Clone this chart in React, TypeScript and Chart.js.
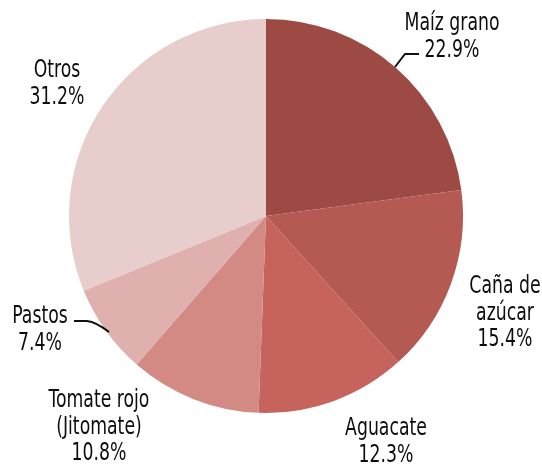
import React, { useEffect, useRef } from "react";
import { Chart, registerables } from "chart.js";

Chart.register(...registerables);

const categories = ["Maíz grano", "Caña de azúcar", "Aguacate", "Tomate rojo (Jitomate)", "Pastos", "Otros"];
const values = [22.9, 15.4, 12.3, 10.8, 7.4, 31.2];
const colors = ["#9e4a44", "#b55a52", "#c6635d", "#d38a85", "#dfb0ae", "#e8cdcd"];
const labelLines = [
  ["Maíz grano", "22.9%"],
  ["Caña de", "azúcar", "15.4%"],
  ["Aguacate", "12.3%"],
  ["Tomate rojo", "(Jitomate)", "10.8%"],
  ["Pastos", "7.4%"],
  ["Otros", "31.2%"],
];
// label anchor offsets from pie center (x center, first baseline)
const labelOffsets = [
  [186, -186],
  [239, 77],
  [120, 219],
  [-167, 191],
  [-226, 107],
  [-209, -139],
];
const FONT = '24px "DejaVu Sans Condensed", "Liberation Sans Narrow", sans-serif';
const X_SCALE = 0.8;
const LINE_H = 26.5;

const labelPlugin = {
  id: "pieLabels",
  afterDraw(chart: any) {
    const meta = chart.getDatasetMeta(0);
    const arc = meta.data[0];
    if (!arc) return;
    const cx = arc.x;
    const cy = arc.y;
    const ctx = chart.ctx;
    ctx.save();
    ctx.fillStyle = "#0d0d0d";
    ctx.font = FONT;
    ctx.textAlign = "center";
    ctx.textBaseline = "alphabetic";
    labelLines.forEach((lines, i) => {
      const [dx, dy] = labelOffsets[i];
      lines.forEach((t, j) => {
        ctx.save();
        ctx.translate(cx + dx, cy + dy + j * LINE_H);
        ctx.scale(X_SCALE, 1);
        ctx.fillText(t, 0, 0);
        ctx.restore();
      });
    });
    // leader lines
    ctx.strokeStyle = "#111";
    ctx.lineWidth = 2;
    ctx.lineJoin = "miter";
    // Maíz grano
    ctx.beginPath();
    ctx.moveTo(cx + 129, cy - 149);
    ctx.lineTo(cx + 139, cy - 162);
    ctx.lineTo(cx + 153, cy - 162);
    ctx.stroke();
    // Pastos
    ctx.beginPath();
    ctx.moveTo(cx - 192, cy + 105);
    ctx.lineTo(cx - 179, cy + 105);
    ctx.quadraticCurveTo(cx - 170, cy + 106, cx - 157, cy + 116);
    ctx.stroke();
    ctx.restore();
  },
};

export default function App() {
  const ref = useRef<HTMLCanvasElement>(null);
  useEffect(() => {
    document.body.style.margin = "0";
    const chart = new Chart(ref.current!, {
      type: "pie",
      data: {
        labels: categories,
        datasets: [
          {
            data: values,
            backgroundColor: colors,
            borderWidth: 0,
          },
        ],
      },
      options: {
        animation: false,
        responsive: false,
        layout: { padding: { left: 69, right: 79, top: 19, bottom: 53 } },
        plugins: { legend: { display: false }, tooltip: { enabled: false } },
      },
      plugins: [labelPlugin],
    });
    return () => chart.destroy();
  }, []);
  return <canvas ref={ref} width={542} height={466} style={{ display: "block" }} />;
}
